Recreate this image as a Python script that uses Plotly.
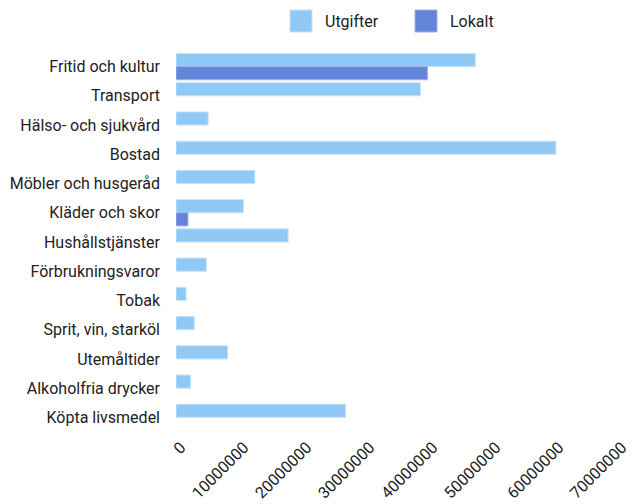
import plotly.graph_objects as go

categories = [
    "Fritid och kultur", "Transport", "Hälso- och sjukvård", "Bostad",
    "Möbler och husgeråd", "Kläder och skor", "Hushållstjänster",
    "Förbrukningsvaror", "Tobak", "Sprit, vin, starköl", "Utemåltider",
    "Alkoholfria drycker", "Köpta livsmedel",
]
utgifter = [47500000, 38800000, 5100000, 60300000, 12500000, 10700000,
            17800000, 4800000, 1600000, 2900000, 8200000, 2300000, 26900000]
lokalt = [39900000, None, None, None, None, 1900000, None,
          None, None, None, None, None, None]
series_names = ["Utgifter", "Lokalt"]
colors = ["#90C8F6", "#6384D8"]
border_colors = ["#C4E2FA", "#9AB0E8"]
x_ticks = [0, 10000000, 20000000, 30000000, 40000000, 50000000, 60000000, 70000000]

FONT = "Roboto, sans-serif"

fig = go.Figure()
for name, vals, c, bc in zip(series_names, [utgifter, lokalt], colors, border_colors):
    fig.add_trace(go.Bar(
        y=categories, x=vals, name=name, orientation="h",
        marker=dict(color=c, line=dict(color=bc, width=1)),
        showlegend=False,
    ))

# custom legend (large square swatches like the reference)
PW, PH = 441, 380
legend_x = [114 / PW, 239 / PW]
for i, (name, c, bc) in enumerate(zip(series_names, colors, border_colors)):
    x0 = legend_x[i]
    fig.add_shape(type="rect", xref="paper", yref="paper",
                  x0=x0, x1=x0 + 22 / PW, y0=1 + 20 / PH, y1=1 + 42 / PH,
                  fillcolor=c, line=dict(color=bc, width=1))
    fig.add_annotation(text=name, xref="paper", yref="paper",
                       x=x0 + 33 / PW, y=1 + 31 / PH, xanchor="left", yanchor="middle",
                       showarrow=False, font=dict(family=FONT, size=16, color="#222"))

fig.update_layout(
    width=636, height=504,
    margin=dict(l=168, r=27, t=44, b=80),
    paper_bgcolor="white", plot_bgcolor="white",
    barmode="group", bargap=0.1, bargroupgap=0,
    font=dict(family=FONT, size=16, color="#222"),
)
fig.update_yaxes(autorange="reversed", showgrid=False, zeroline=False,
                 showline=False, ticks="", ticklabelstandoff=15, automargin=False,
                 tickfont=dict(family=FONT, size=16, color="#222"))
fig.update_xaxes(range=[0, 70000000], tickvals=x_ticks,
                 ticktext=[str(v) for v in x_ticks], tickangle=-45, automargin=False,
                 ticklabelshift=5, ticklabelstandoff=2,
                 showgrid=False, zeroline=False, showline=False, ticks="",
                 tickfont=dict(family=FONT, size=16, color="#222"))

fig.write_html("out.html")
